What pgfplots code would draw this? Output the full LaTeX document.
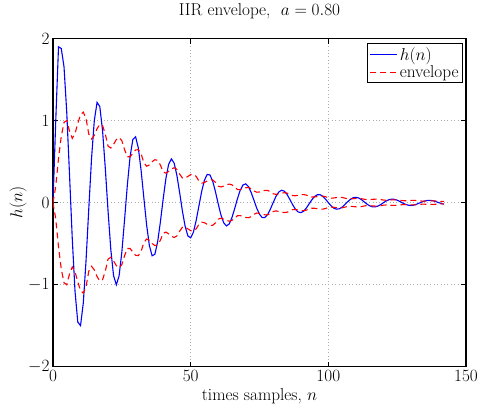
\documentclass[border=0pt]{standalone}
\usepackage{pgfplots}
\usepackage{pgfplotstable}
\pgfplotsset{compat=1.18}
\pgfplotstableread{
n h env ne
0 0.000 0.000 0.000
1 1.000 0.200 -0.200
2 1.900 0.540 -0.540
3 1.880 0.808 -0.808
4 1.657 0.978 -0.978
5 1.099 1.002 -1.002
6 0.343 0.870 -0.870
7 -0.440 0.784 -0.784
8 -1.082 0.844 -0.844
9 -1.456 0.966 -0.966
10 -1.500 1.073 -1.073
11 -1.226 1.104 -1.104
12 -0.708 1.025 -1.025
13 -0.073 0.835 -0.835
14 0.539 0.776 -0.776
15 1.000 0.821 -0.821
16 1.222 0.901 -0.901
17 1.172 0.955 -0.955
18 0.878 0.940 -0.940
19 0.417 0.835 -0.835
20 -0.105 0.689 -0.689
21 -0.573 0.666 -0.666
22 -0.891 0.711 -0.711
23 -1.002 0.769 -0.769
24 -0.894 0.794 -0.794
25 -0.605 0.756 -0.756
26 -0.205 0.646 -0.646
27 0.213 0.559 -0.559
28 0.562 0.560 -0.560
29 0.770 0.602 -0.602
30 0.803 0.642 -0.642
31 0.664 0.646 -0.646
32 0.393 0.595 -0.595
33 0.057 0.487 -0.487
34 -0.271 0.444 -0.444
35 -0.523 0.460 -0.460
36 -0.648 0.498 -0.498
37 -0.630 0.524 -0.524
38 -0.479 0.515 -0.515
39 -0.236 0.459 -0.459
40 0.041 0.375 -0.375
41 0.293 0.359 -0.359
42 0.468 0.381 -0.381
43 0.533 0.411 -0.411
44 0.482 0.425 -0.425
45 0.332 0.406 -0.406
46 0.121 0.349 -0.349
47 -0.103 0.300 -0.300
48 -0.290 0.298 -0.298
49 -0.407 0.320 -0.320
50 -0.429 0.342 -0.342
51 -0.360 0.346 -0.346
52 -0.218 0.320 -0.320
53 -0.040 0.264 -0.264
54 0.136 0.238 -0.238
55 0.273 0.245 -0.245
56 0.344 0.265 -0.265
57 0.338 0.280 -0.280
58 0.261 0.276 -0.276
59 0.134 0.248 -0.248
60 -0.014 0.201 -0.201
61 -0.150 0.191 -0.191
62 -0.246 0.202 -0.202
63 -0.284 0.218 -0.218
64 -0.260 0.226 -0.226
65 -0.182 0.217 -0.217
66 -0.071 0.188 -0.188
67 0.049 0.160 -0.160
68 0.151 0.158 -0.158
69 0.215 0.169 -0.169
70 0.229 0.181 -0.181
71 0.195 0.184 -0.184
72 0.121 0.171 -0.171
73 0.027 0.142 -0.142
74 -0.068 0.127 -0.127
75 -0.142 0.130 -0.130
76 -0.183 0.141 -0.141
77 -0.181 0.149 -0.149
78 -0.142 0.148 -0.148
79 -0.075 0.133 -0.133
80 0.003 0.107 -0.107
81 0.077 0.101 -0.101
82 0.129 0.107 -0.107
83 0.151 0.116 -0.116
84 0.140 0.121 -0.121
85 0.100 0.117 -0.117
86 0.041 0.102 -0.102
87 -0.023 0.086 -0.086
88 -0.078 0.084 -0.084
89 -0.113 0.090 -0.090
90 -0.122 0.096 -0.096
91 -0.105 0.098 -0.098
92 -0.067 0.092 -0.092
93 -0.017 0.077 -0.077
94 0.034 0.068 -0.068
95 0.074 0.069 -0.069
96 0.096 0.074 -0.074
97 0.097 0.079 -0.079
98 0.077 0.079 -0.079
99 0.042 0.072 -0.072
100 0.000 0.058 -0.058
101 -0.039 0.054 -0.054
102 -0.068 0.057 -0.057
103 -0.080 0.062 -0.062
104 -0.075 0.065 -0.065
105 -0.055 0.063 -0.063
106 -0.024 0.055 -0.055
107 0.010 0.046 -0.046
108 0.040 0.045 -0.045
109 0.060 0.048 -0.048
110 0.065 0.051 -0.051
111 0.057 0.052 -0.052
112 0.037 0.049 -0.049
113 0.010 0.041 -0.041
114 -0.017 0.036 -0.036
115 -0.039 0.037 -0.037
116 -0.051 0.040 -0.040
117 -0.052 0.042 -0.042
118 -0.042 0.042 -0.042
119 -0.024 0.038 -0.038
120 -0.001 0.031 -0.031
121 0.020 0.029 -0.029
122 0.035 0.030 -0.030
123 0.043 0.033 -0.033
124 0.040 0.034 -0.034
125 0.030 0.033 -0.033
126 0.014 0.029 -0.029
127 -0.005 0.024 -0.024
128 -0.021 0.023 -0.023
129 -0.031 0.025 -0.025
130 -0.035 0.027 -0.027
131 -0.031 0.028 -0.028
132 -0.020 0.026 -0.026
133 -0.006 0.022 -0.022
134 0.008 0.019 -0.019
135 0.020 0.019 -0.019
136 0.027 0.021 -0.021
137 0.028 0.022 -0.022
138 0.023 0.022 -0.022
139 0.013 0.020 -0.020
140 0.001 0.016 -0.016
141 -0.010 0.015 -0.015
142 -0.019 0.016 -0.016
}\datatab
\begin{document}
\begin{tikzpicture}
\begin{axis}[
  at={(0,0)}, anchor=south west,
  scale only axis, width=413bp, height=328bp,
  xmin=0, xmax=150, ymin=-2, ymax=2,
  xtick={0,50,100,150}, ytick={-2,-1,0,1,2},
  tick align=inside, tick pos=both, major tick length=5bp,
  every tick/.style={black, line width=0.8bp},
  grid=major,
  major grid style={gray!65, dash pattern=on 0.8bp off 2.6bp, line width=0.7bp},
  axis line style={line width=1.2bp},
  tick label style={font=\LARGE},
  label style={font=\LARGE},
  title style={font=\LARGE, at={(axis description cs:0.5,1.053)}, anchor=base},
  title={IIR envelope,\ \ $a = 0.80$},
  xlabel={times samples, $n$},
  ylabel={$h(n)$},
  xlabel style={at={(axis description cs:0.5,-0.0915)}, anchor=center},
  ylabel style={at={(axis description cs:-0.0847,0.5)}, anchor=center},
  legend style={at={(axis description cs:1,1)}, anchor=north east, xshift=-3bp, yshift=-4bp,
    line width=1bp, font=\LARGE, cells={anchor=west}, inner sep=2bp},
  legend image post style={xscale=1.6},
]
\addplot[color=blue, line width=1.1bp] table[x=n, y=h] {\datatab};
\addlegendentry{$h(n)$}
\addplot[color=red, line width=1.1bp, dash pattern=on 6bp off 4bp] table[x=n, y=env] {\datatab};
\addlegendentry{envelope}
\addplot[color=red, line width=1.1bp, dash pattern=on 6bp off 4bp, forget plot] table[x=n, y=ne] {\datatab};
\end{axis}
\path (0,0) ++(-53bp,-44bp) rectangle ++(482bp,407bp);
\end{tikzpicture}
\end{document}
